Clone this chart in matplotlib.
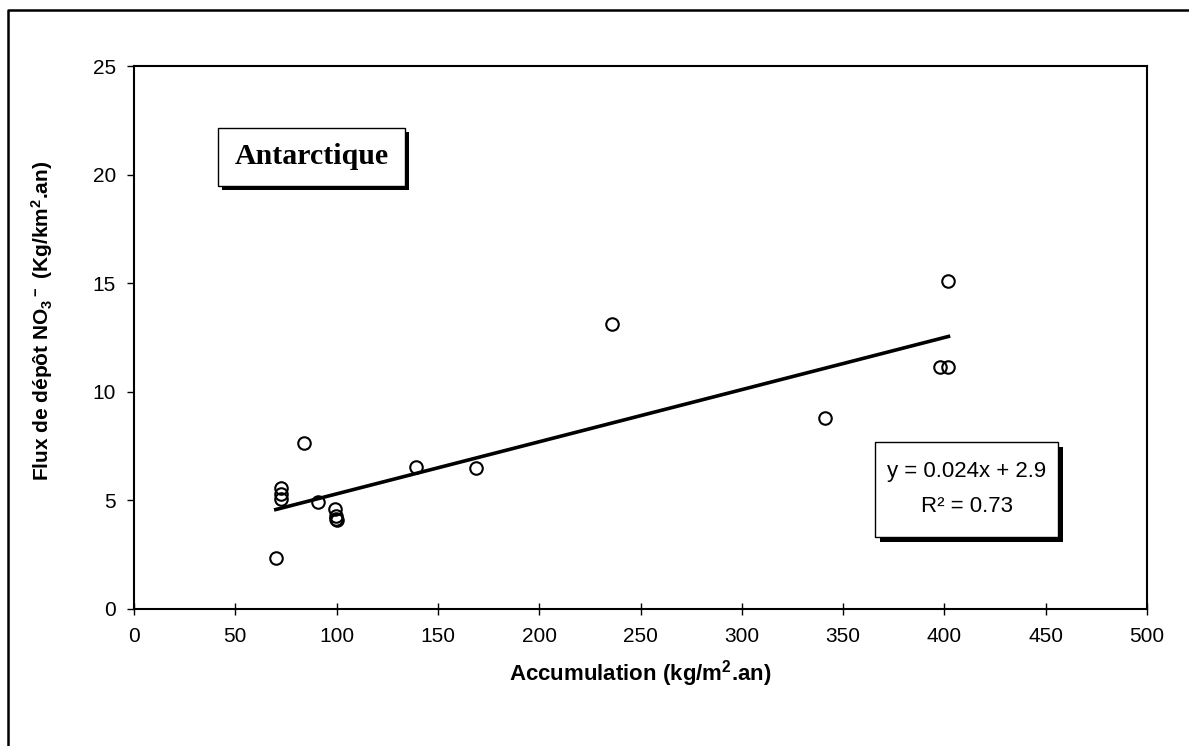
import numpy as np
import matplotlib
matplotlib.use('Agg')
import matplotlib.pyplot as plt
from matplotlib.patches import Rectangle
from matplotlib.lines import Line2D

'''Data read from the picture'''

#Accumulation (kg/m2.an)
accumulation = [70, 72.5, 72.5, 72.5, 84, 91, 99, 99.5, 99.5, 100,
                139, 169, 236, 341, 398, 402, 402]
#Flux de depot NO3- (Kg/km2.an)
flux = [2.35, 5.55, 5.28, 5.05, 7.65, 4.93, 4.6, 4.3, 4.15, 4.1,
        6.54, 6.48, 13.1, 8.78, 11.12, 11.12, 15.12]
#Linear trend printed on the chart
slope, intercept, r2 = 0.024, 2.9, 0.73

x_ticks = np.arange(0, 501, 50)
y_ticks = np.arange(0, 26, 5)

#-----------------------#
#        Figure         #
#-----------------------#

plt.rcParams['font.family'] = 'Liberation Sans'
plt.rcParams['mathtext.fontset'] = 'custom'
plt.rcParams['mathtext.rm'] = 'Liberation Sans:bold'
plt.rcParams['mathtext.default'] = 'rm'

W, H = 1189, 746
fig = plt.figure(figsize=(W/100, H/100), dpi=100)

def fx(px): return px/W
def fy(py): return 1 - py/H

ax = fig.add_axes([fx(134), fy(609), (1147-134)/W, (609-66)/H])

#Trend line
xl = np.array([min(accumulation), max(accumulation)])
ax.plot(xl, slope*xl + intercept, color='black', lw=2.6, zorder=2)

#Points
ax.plot(accumulation, flux, 'o', mfc='none', mec='black', ms=9, mew=1.5, zorder=3)

ax.set_xlim(0, 500)
ax.set_ylim(0, 25)
ax.set_xticks(x_ticks)
ax.set_yticks(y_ticks)
ax.tick_params(axis='x', direction='inout', length=8, width=1, labelsize=15, pad=9)
ax.tick_params(axis='y', direction='out', length=5, width=1, labelsize=15, pad=8)
for s in ax.spines.values():
    s.set_linewidth(1.5)

ax.set_xlabel(r'Accumulation (kg/m$^2$.an)', fontsize=16, fontweight='bold')
ax.set_ylabel(r'Flux de dépôt NO$_3$$^-$ (Kg/km$^2$.an)', fontsize=15, fontweight='bold')
ax.xaxis.set_label_coords(0.5, -0.09)
ax.yaxis.set_label_coords(-0.078, 0.53)

#Boxes with shadow (pixel layout)
def shadow_box(x0, y0, x1, y1, off):
    fig.patches.append(Rectangle((fx(x0+off), fy(y1+off)), fx(x1-x0), (y1-y0)/H,
                                 transform=fig.transFigure, fc='black', ec='none', zorder=5))
    fig.patches.append(Rectangle((fx(x0), fy(y1)), fx(x1-x0), (y1-y0)/H,
                                 transform=fig.transFigure, fc='white', ec='black', lw=1, zorder=6))

shadow_box(218, 128, 405, 186, 4)
fig.text(fx(312), fy(157), 'Antarctique', family='Liberation Serif', fontweight='bold',
         fontsize=21.5, ha='center', va='center', zorder=7)

shadow_box(875, 442, 1058, 537, 5)
fig.text(fx(967), fy(471), 'y = %.3fx + %.1f' % (slope, intercept), fontsize=16,
         ha='center', va='center', zorder=7)
fig.text(fx(967), fy(506), 'R² = %.2f' % r2, fontsize=16,
         ha='center', va='center', zorder=7)

#Outer frame
fig.lines.append(Line2D([fx(8), fx(8), fx(1189)], [fy(746), fy(10), fy(10)],
                        transform=fig.transFigure, color='black', lw=1.8))

plt.savefig('out.png', dpi=100)
plt.close()
